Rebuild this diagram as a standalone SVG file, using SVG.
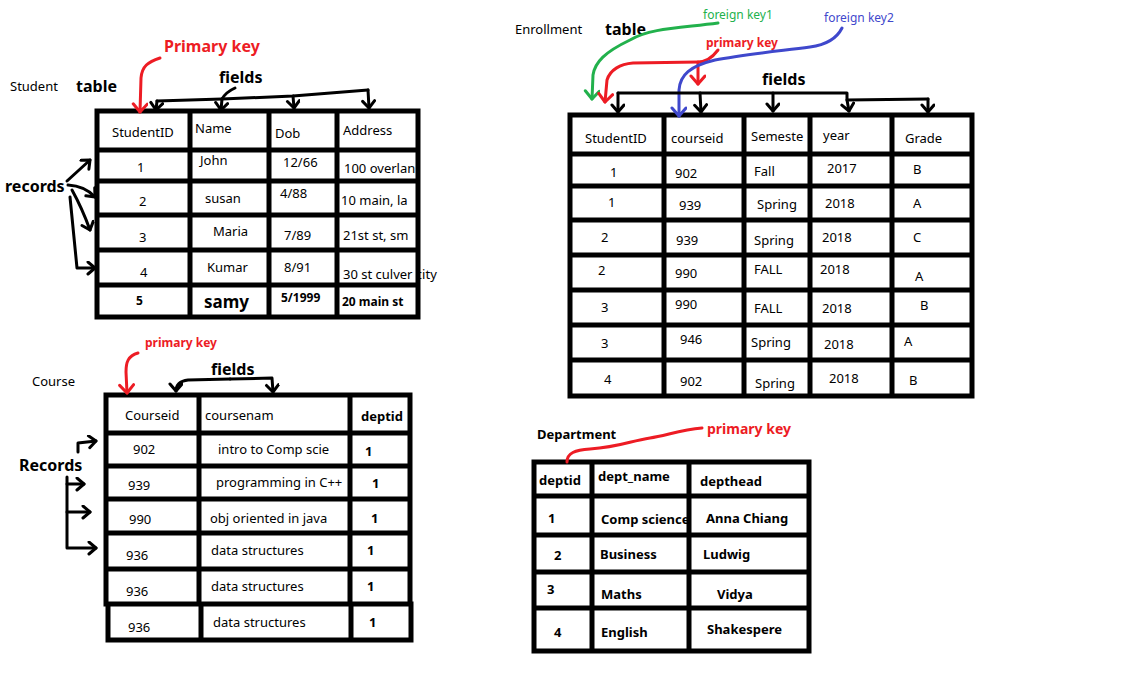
<svg xmlns="http://www.w3.org/2000/svg" width="1133" height="677" viewBox="0 0 1133 677">
  <style>
    .t { font-family: "Noto Sans", "Open Sans", "DejaVu Sans", sans-serif; font-size: 13px; fill: #000; }
    .b { font-weight: bold; }
    .lbl { font-family: "Noto Sans", "Open Sans", "DejaVu Sans", sans-serif; font-size: 16px; font-weight: bold; fill: #000; }
    .red { fill: #ed1c24; }
    .green { fill: #22b14c; }
    .blue { fill: #3f48cc; }
    .grid { stroke: #000; stroke-width: 5; fill: none; stroke-linecap: square; }
    .k { stroke: #000; stroke-width: 3; fill: none; stroke-linecap: round; stroke-linejoin: round; }
    .r { stroke: #ed1c24; stroke-width: 3; fill: none; stroke-linecap: round; stroke-linejoin: round; }
    .g { stroke: #22b14c; stroke-width: 3; fill: none; stroke-linecap: round; stroke-linejoin: round; }
    .bl { stroke: #3f48cc; stroke-width: 3; fill: none; stroke-linecap: round; stroke-linejoin: round; }
  </style>
  <defs>
    <marker id="ah-k" markerUnits="userSpaceOnUse" markerWidth="16" markerHeight="16" refX="9" refY="7" orient="auto">
      <path d="M2,1 L9,7 L2,13" fill="none" stroke="#000" stroke-width="3" stroke-linecap="round" stroke-linejoin="round"/>
    </marker>
    <marker id="ah-r" markerUnits="userSpaceOnUse" markerWidth="18" markerHeight="18" refX="10" refY="8" orient="auto">
      <path d="M2,1 L10,8 L2,15" fill="none" stroke="#ed1c24" stroke-width="3" stroke-linecap="round" stroke-linejoin="round"/>
    </marker>
    <marker id="ah-g" markerUnits="userSpaceOnUse" markerWidth="18" markerHeight="18" refX="10" refY="8" orient="auto">
      <path d="M2,1 L10,8 L2,15" fill="none" stroke="#22b14c" stroke-width="3" stroke-linecap="round" stroke-linejoin="round"/>
    </marker>
    <marker id="ah-b" markerUnits="userSpaceOnUse" markerWidth="18" markerHeight="18" refX="10" refY="8" orient="auto">
      <path d="M2,1 L10,8 L2,15" fill="none" stroke="#3f48cc" stroke-width="3" stroke-linecap="round" stroke-linejoin="round"/>
    </marker>
  </defs>
  <rect width="1133" height="677" fill="#fff"/>

  <!-- Student table -->
  <g id="student">
    <text class="t" x="10" y="91">Student</text>
    <text class="lbl" x="76" y="92">table</text>
    <text class="t" x="112" y="137">StudentID</text>
    <text class="t" x="195" y="133">Name</text>
    <text class="t" x="275" y="138">Dob</text>
    <text class="t" x="343" y="135">Address</text>
    <text class="t" x="137" y="172">1</text>
    <text class="t" x="200" y="165">John</text>
    <text class="t" x="283" y="167">12/66</text>
    <text class="t" x="344" y="173">100 overlan</text>
    <text class="t" x="139" y="206">2</text>
    <text class="t" x="205" y="203">susan</text>
    <text class="t" x="280" y="198">4/88</text>
    <text class="t" x="341" y="205">10 main, la</text>
    <text class="t" x="139" y="242">3</text>
    <text class="t" x="213" y="236">Maria</text>
    <text class="t" x="284" y="240">7/89</text>
    <text class="t" x="343" y="240">21st st, sm</text>
    <text class="t" x="140" y="277">4</text>
    <text class="t" x="207" y="272">Kumar</text>
    <text class="t" x="284" y="272">8/91</text>
    <text class="t" x="343" y="279">30 st culver city</text>
    <text class="t b" x="136" y="305" style="font-size:12px">5</text>
    <text class="t b" x="204" y="308" style="font-size:17px">samy</text>
    <text class="t b" x="281" y="302" style="font-size:12px">5/1999</text>
    <text class="t b" x="342" y="306" style="font-size:12px">20 main st</text>
    <path class="grid" d="M97,111 H418 M97,150 H418 M97,181 H418 M97,215 H418 M97,250 H418 M97,285 H418 M97,317 H418
                          M97,111 V317 M190,111 V317 M269,111 V317 M337,111 V317 M418,111 V317"/>
  </g>

  <!-- Enrollment table -->
  <g id="enrollment">
    <text class="t" x="515" y="34">Enrollment</text>
    <text class="lbl" x="605" y="35">table</text>
    <text class="t" x="585" y="143">StudentID</text>
    <text class="t" x="671" y="143">courseid</text>
    <text class="t" x="751" y="141">Semeste</text>
    <text class="t" x="823" y="140">year</text>
    <text class="t" x="905" y="143">Grade</text>

    <text class="t" x="610" y="177">1</text>
    <text class="t" x="675" y="178">902</text>
    <text class="t" x="754" y="176">Fall</text>
    <text class="t" x="827" y="173">2017</text>
    <text class="t" x="913" y="174">B</text>

    <text class="t" x="608" y="207">1</text>
    <text class="t" x="679" y="210">939</text>
    <text class="t" x="757" y="209">Spring</text>
    <text class="t" x="825" y="208">2018</text>
    <text class="t" x="913" y="208">A</text>

    <text class="t" x="601" y="242">2</text>
    <text class="t" x="676" y="245">939</text>
    <text class="t" x="754" y="245">Spring</text>
    <text class="t" x="822" y="242">2018</text>
    <text class="t" x="913" y="242">C</text>

    <text class="t" x="598" y="275">2</text>
    <text class="t" x="675" y="278">990</text>
    <text class="t" x="754" y="274">FALL</text>
    <text class="t" x="820" y="274">2018</text>
    <text class="t" x="915" y="281">A</text>

    <text class="t" x="601" y="312">3</text>
    <text class="t" x="675" y="309">990</text>
    <text class="t" x="754" y="313">FALL</text>
    <text class="t" x="822" y="313">2018</text>
    <text class="t" x="920" y="310">B</text>

    <text class="t" x="601" y="348">3</text>
    <text class="t" x="680" y="344">946</text>
    <text class="t" x="751" y="347">Spring</text>
    <text class="t" x="824" y="349">2018</text>
    <text class="t" x="904" y="346">A</text>

    <text class="t" x="604" y="384">4</text>
    <text class="t" x="680" y="386">902</text>
    <text class="t" x="755" y="388">Spring</text>
    <text class="t" x="829" y="383">2018</text>
    <text class="t" x="909" y="385">B</text>

    <path class="grid" d="M570,115 H972 M570,154 H972 M570,186 H972 M570,220 H972 M570,255 H972 M570,290 H972 M570,325 H972 M570,360 H972 M570,396 H972
                          M570,115 V396 M664,115 V396 M744,115 V396 M810,115 V396 M892,115 V396 M972,115 V396"/>
  </g>

  <!-- Course table -->
  <g id="course">
    <text class="t" x="32" y="386">Course</text>
    <text class="t" x="125" y="420">Courseid</text>
    <text class="t" x="205" y="420">coursenam</text>
    <text class="t b" x="361" y="421">deptid</text>
    <text class="t" x="133" y="454">902</text>
    <text class="t" x="218" y="454">intro to Comp scie</text>
    <text class="t b" x="365" y="456">1</text>
    <text class="t" x="128" y="490">939</text>
    <text class="t" x="216" y="487">programming in C++</text>
    <text class="t b" x="372" y="488">1</text>
    <text class="t" x="129" y="524">990</text>
    <text class="t" x="210" y="523">obj oriented in java</text>
    <text class="t b" x="371" y="523">1</text>
    <text class="t" x="126" y="560">936</text>
    <text class="t" x="211" y="555">data structures</text>
    <text class="t b" x="367" y="555">1</text>
    <text class="t" x="126" y="596">936</text>
    <text class="t" x="211" y="591">data structures</text>
    <text class="t b" x="367" y="591">1</text>
    <text class="t" x="128" y="632">936</text>
    <text class="t" x="213" y="627">data structures</text>
    <text class="t b" x="369" y="627">1</text>
    <path class="grid" d="M106,395 H410 M106,433 H410 M106,466 H410 M106,499 H410 M106,533 H410 M106,569 H410 M106,604 H410
                          M108,640 H411
                          M106,395 V604 M199,395 V604 M350,395 V604 M410,395 V604
                          M108,604 V640 M201,604 V640 M351,604 V640 M411,604 V640"/>
  </g>

  <!-- Department table -->
  <g id="department">
    <text class="t b" x="537" y="439">Department</text>
    <text class="t b" x="539" y="485">deptid</text>
    <text class="t b" x="598" y="481">dept_name</text>
    <text class="t b" x="700" y="486">depthead</text>
    <text class="t b" x="548" y="523">1</text>
    <text class="t b" x="601" y="524">Comp science</text>
    <text class="t b" x="706" y="523">Anna Chiang</text>
    <text class="t b" x="554" y="560">2</text>
    <text class="t b" x="600" y="559">Business</text>
    <text class="t b" x="703" y="559">Ludwig</text>
    <text class="t b" x="547" y="594">3</text>
    <text class="t b" x="601" y="599">Maths</text>
    <text class="t b" x="717" y="599">Vidya</text>
    <text class="t b" x="554" y="637">4</text>
    <text class="t b" x="601" y="637">English</text>
    <text class="t b" x="707" y="634">Shakespere</text>
    <path class="grid" d="M534,462 H809 M534,496 H809 M534,535 H809 M534,572 H809 M534,608 H809 M534,651 H809
                          M534,462 V651 M592,462 V651 M689,462 V651 M809,462 V651"/>
  </g>

  <!-- Annotation labels -->
  <g id="labels">
    <text class="lbl red" x="164" y="52">Primary key</text>
    <text class="lbl" x="219" y="83">fields</text>
    <text class="lbl" x="5" y="192">records</text>
    <text class="t green" x="703" y="19" style="font-size:12px">foreign key1</text>
    <text class="t blue" x="824" y="22" style="font-size:12px">foreign key2</text>
    <text class="t b red" x="706" y="47" style="font-size:12px">primary key</text>
    <text class="lbl" x="762" y="85">fields</text>
    <text class="t b red" x="145" y="347" style="font-size:12px">primary key</text>
    <text class="lbl" x="211" y="375">fields</text>
    <text class="lbl" x="19" y="471">Records</text>
    <text class="t b red" x="707" y="434" style="font-size:14px">primary key</text>
  </g>

  <!-- Connectors -->
  <g id="connectors">
    <!-- Student -->
    <path class="r" d="M160,58 C148,62 142,66 141,78 L140,112" marker-end="url(#ah-r)"/>
    <path class="k" d="M157,101 L222,99 L293,96 L368,90"/>
    <path class="k" d="M235,88 Q226,92 222,99"/>
    <path class="k" d="M157,101 L156,110" marker-end="url(#ah-k)"/>
    <path class="k" d="M222,99 L221,110" marker-end="url(#ah-k)"/>
    <path class="k" d="M293,96 L294,108" marker-end="url(#ah-k)"/>
    <path class="k" d="M368,90 L369,108" marker-end="url(#ah-k)"/>
    <path class="k" d="M67,181 L90,160" marker-end="url(#ah-k)"/>
    <path class="k" d="M68,185 Q85,186 95,197" marker-end="url(#ah-k)"/>
    <path class="k" d="M72,190 Q82,208 90,230" marker-end="url(#ah-k)"/>
    <path class="k" d="M70,197 L77,268 L95,268" marker-end="url(#ah-k)"/>

    <!-- Enrollment -->
    <path class="g" d="M718,23 C680,28 650,28 630,40 C605,52 595,62 593,75 L592,99" marker-end="url(#ah-g)"/>
    <path class="r" d="M718,50 C712,58 705,62 698,62 L633,63 C620,64 610,70 607,80 L605,102" marker-end="url(#ah-r)"/>
    <path class="r" d="M698,62 L698,84" marker-end="url(#ah-r)"/>
    <path class="bl" d="M842,28 C836,40 825,45 810,47 C770,52 740,55 715,60 C690,66 680,75 679,90 L679,116" marker-end="url(#ah-b)"/>
    <path class="k" d="M618,93 L847,93 L847,100 L928,99"/>
    <path class="k" d="M618,93 L618,112" marker-end="url(#ah-k)"/>
    <path class="k" d="M700,93 L701,112" marker-end="url(#ah-k)"/>
    <path class="k" d="M773,93 L773,111" marker-end="url(#ah-k)"/>
    <path class="k" d="M847,100 L849,111" marker-end="url(#ah-k)"/>
    <path class="k" d="M928,99 L928,112" marker-end="url(#ah-k)"/>

    <!-- Course -->
    <path class="r" d="M138,353 C128,356 126,362 126,372 L127,393" marker-end="url(#ah-r)"/>
    <path class="k" d="M230,379 L188,380 C180,381 176,384 176,391" marker-end="url(#ah-k)"/>
    <path class="k" d="M230,379 L272,378 L273,392" marker-end="url(#ah-k)"/>
    <path class="k" d="M78,452 L78,443 L96,441" marker-end="url(#ah-k)"/>
    <path class="k" d="M67,477 L67,548 L96,548" marker-end="url(#ah-k)"/>
    <path class="k" d="M67,484 L84,484" marker-end="url(#ah-k)"/>
    <path class="k" d="M67,512 L90,512" marker-end="url(#ah-k)"/>

    <!-- Department -->
    <path class="r" d="M702,428 C680,430 665,436 650,438 C630,441 620,447 590,449 C575,450 567,453 567,462"/>
  </g>
</svg>
